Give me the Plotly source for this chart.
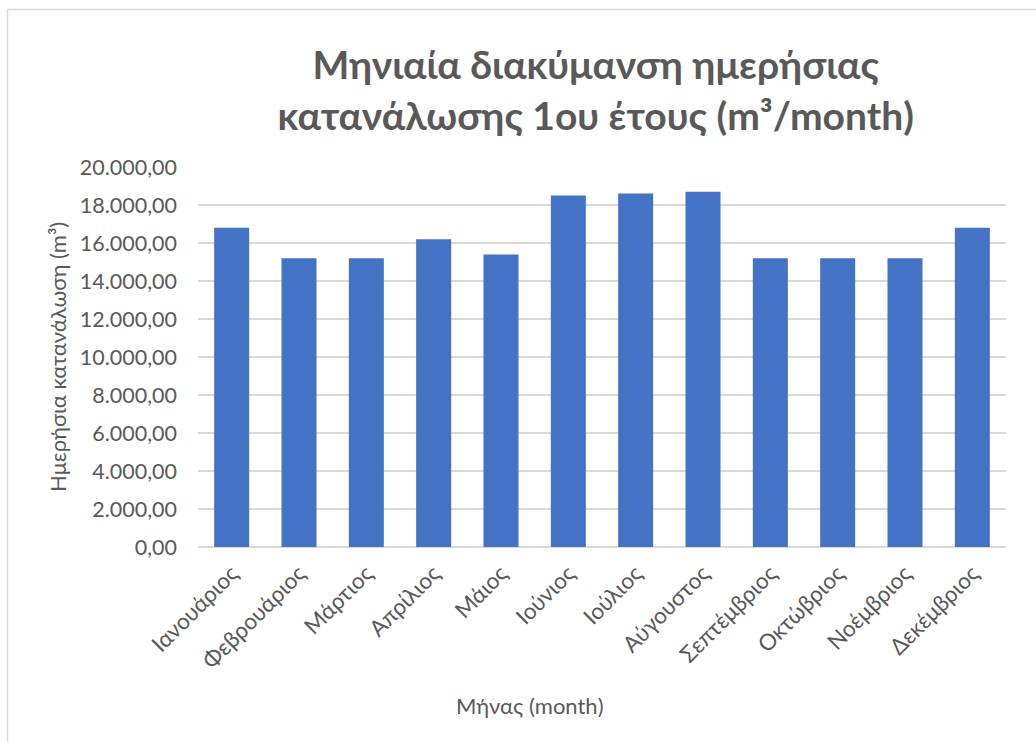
import plotly.graph_objects as go

months = ["Ιανουάριος", "Φεβρουάριος", "Μάρτιος", "Απρίλιος", "Μάιος", "Ιούνιος",
          "Ιούλιος", "Αύγουστος", "Σεπτέμβριος", "Οκτώβριος", "Νοέμβριος", "Δεκέμβριος"]
consumption = [16800, 15200, 15200, 16200, 15400, 18500, 18600, 18700, 15200, 15200, 15200, 16800]
y_ticks = [0, 2000, 4000, 6000, 8000, 10000, 12000, 14000, 16000, 18000, 20000]

FONT = "Lato"
GREY = "#595959"

fig = go.Figure(go.Bar(
    x=months, y=consumption,
    marker=dict(color="#4472C4", line=dict(width=0)),
))

fig.update_layout(
    width=1036, height=742,
    margin=dict(l=198, r=30, t=167, b=195),
    paper_bgcolor="white", plot_bgcolor="white",
    separators=",.",
    bargap=0.48,
    showlegend=False,
    title=dict(
        text="<b>Μηνιαία διακύμανση ημερήσιας<br>κατανάλωσης 1ου έτους (m³/month)</b>",
        x=0.575, xanchor="center", y=0.893, yanchor="middle",
        font=dict(family=FONT, size=39, color=GREY),
    ),
    font=dict(family=FONT, color=GREY),
)

fig.update_yaxes(
    range=[0, 20000], tickvals=y_ticks, tickformat=",.2f",
    showgrid=True, gridcolor="#D9D9D9", gridwidth=1.5,
    zeroline=True, zerolinecolor="#D9D9D9", zerolinewidth=1.5,
    showline=False, ticks="",
    tickfont=dict(family=FONT, size=21.5, color=GREY),
    ticklabelstandoff=20,
)
fig.update_xaxes(
    tickangle=-45, showgrid=False, showline=False, ticks="",
    tickfont=dict(family=FONT, size=22.5, color=GREY),
    ticklabelstandoff=8,
)

# axis titles
fig.add_annotation(text="Ημερήσια κατανάλωση (m³)", xref="paper", yref="paper",
                   x=-0.1745, y=0.5, xanchor="center", yanchor="middle", textangle=-90,
                   showarrow=False, font=dict(family=FONT, size=22, color=GREY))
fig.add_annotation(text="Μήνας (month)", xref="paper", yref="paper",
                   x=(530 - 198) / 808, y=(547 - 705) / 380, xanchor="center", yanchor="middle",
                   showarrow=False, font=dict(family=FONT, size=22, color=GREY))

fig.add_shape(type="rect", xref="paper", yref="paper",
              x0=(7.5 - 198) / 808, x1=1.2, y0=-0.6, y1=(547 - 9.5) / 380,
              line=dict(color="#D9D9D9", width=1.5), fillcolor="rgba(0,0,0,0)", layer="below")

fig.write_html("out.html")
